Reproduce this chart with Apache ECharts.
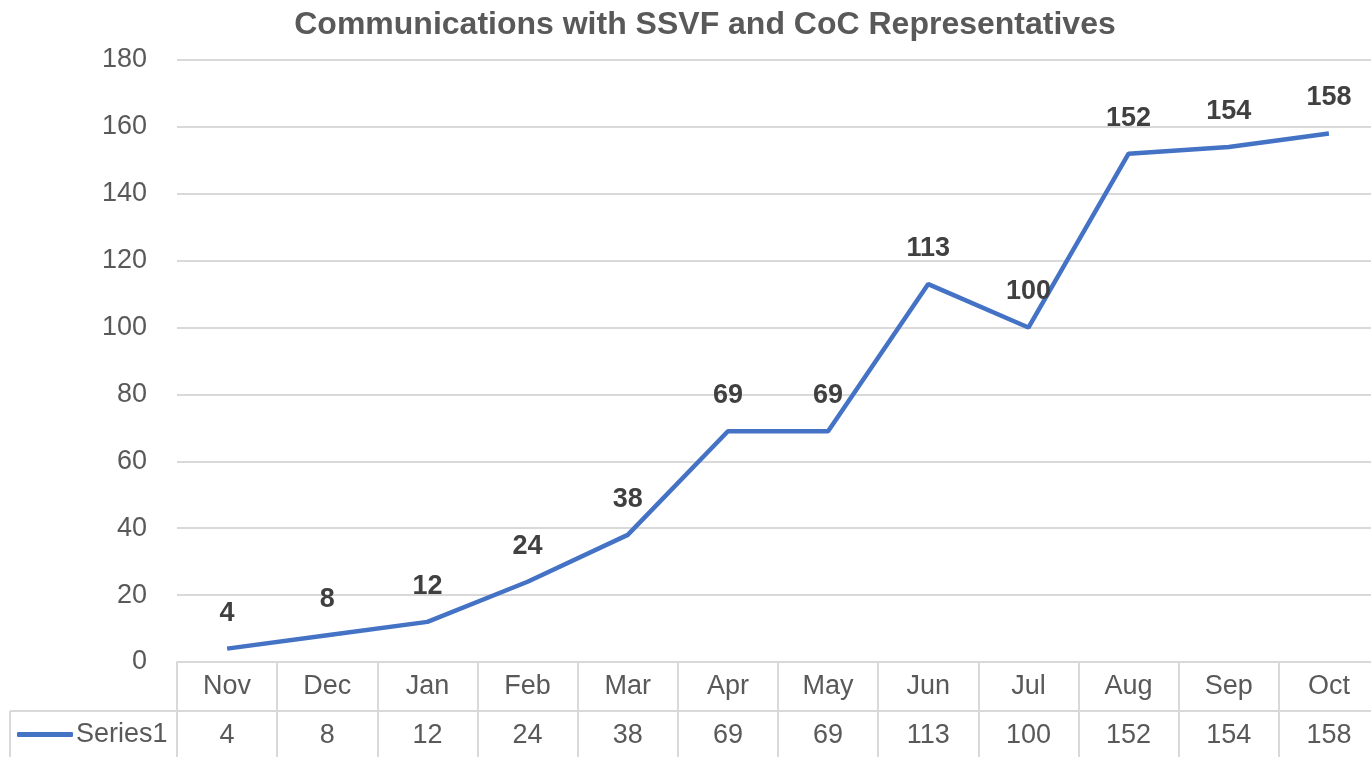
<!DOCTYPE html>
<html>
<head>
<meta charset="utf-8">
<script src="https://cdn.jsdelivr.net/npm/echarts@6/dist/echarts.min.js"></script>
<style>
  html, body { margin: 0; padding: 0; background: #fff; overflow: hidden; }
  #chart { width: 1380px; height: 757px; }
</style>
</head>
<body>
<div id="chart"></div>
<script>
const months = ['Nov', 'Dec', 'Jan', 'Feb', 'Mar', 'Apr', 'May', 'Jun', 'Jul', 'Aug', 'Sep', 'Oct'];
const series1 = [4, 8, 12, 24, 38, 69, 69, 113, 100, 152, 154, 158];
const yTicks = { min: 0, max: 180, step: 20 };

const font = '"Liberation Sans", Arial, sans-serif';
const gridCol = '#d9d9d9';
const txt = '#595959';

const chart = echarts.init(document.getElementById('chart'));

// label = category on line 1, the series value on line 2 (Excel-style data table)
function tableLabel(value, idx) {
    return '{c|' + value + '}\n{v|' + series1[idx] + '}';
}

const option = {
    animation: false,
    title: {
        text: 'Communications with SSVF and CoC Representatives',
        left: 700,
        textAlign: 'center',
        top: 4,
        textStyle: { fontFamily: font, fontSize: 32, fontWeight: 'bold', color: txt }
    },
    legend: {
        data: [{ name: 'Series1', icon: 'roundRect' }],
        left: 17,
        top: 721,
        padding: 0,
        itemWidth: 56,
        itemHeight: 5,
        itemGap: 4,
        textStyle: { fontFamily: font, fontSize: 27, color: txt, padding: [0, 0, 0, -2] }
    },
    grid: { left: 177, top: 60, right: 1, bottom: 95 },
    xAxis: {
        type: 'category',
        data: months,
        boundaryGap: true,
        axisLine: { show: true, lineStyle: { color: gridCol, width: 2 } },
        axisTick: { show: true, length: 100, interval: 0, lineStyle: { color: gridCol, width: 2 } },
        axisLabel: {
            interval: 0,
            margin: 0,
            formatter: tableLabel,
            rich: {
                c: { fontFamily: font, fontSize: 27, color: txt, lineHeight: 50 },
                v: { fontFamily: font, fontSize: 27, color: txt, lineHeight: 48 }
            }
        }
    },
    yAxis: {
        type: 'value',
        min: yTicks.min,
        max: yTicks.max,
        interval: yTicks.step,
        axisLine: { show: false },
        axisTick: { show: false },
        axisLabel: { margin: 30, fontFamily: font, fontSize: 27, color: txt },
        splitLine: { lineStyle: { color: gridCol, width: 2 } }
    },
    series: [{
        name: 'Series1',
        type: 'line',
        data: series1,
        symbol: 'circle',
        symbolSize: 0.1,
        showSymbol: true,
        lineStyle: { color: '#4472c4', width: 4.5 },
        itemStyle: { color: '#4472c4' },
        label: {
            show: true,
            position: 'top',
            distance: 22,
            fontFamily: font,
            fontSize: 27,
            fontWeight: 'bold',
            color: '#404040'
        }
    }],
    graphic: [
        { type: 'line', shape: { x1: 10, y1: 711, x2: 1380, y2: 711 }, style: { stroke: gridCol, lineWidth: 2 } },
        { type: 'line', shape: { x1: 10, y1: 711, x2: 10, y2: 757 }, style: { stroke: gridCol, lineWidth: 2 } }
    ]
};

chart.setOption(option);
</script>
</body>
</html>
